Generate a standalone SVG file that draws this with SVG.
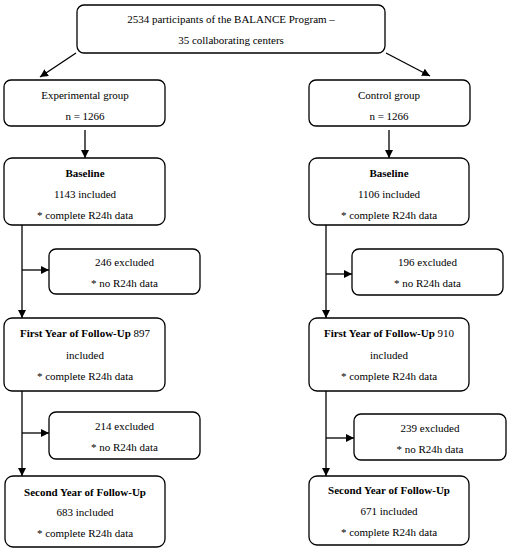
<svg xmlns="http://www.w3.org/2000/svg" width="510" height="550" viewBox="0 0 510 550">
<style>
.box{fill:#fff;stroke:#000;stroke-width:1.3}
.t{font-family:"Liberation Serif","DejaVu Serif",serif;font-size:11px;fill:#000;text-anchor:middle}
.b{font-weight:bold}
.c{stroke:#000;stroke-width:1.3;fill:none}
</style>
<defs>
<marker id="ah" markerUnits="userSpaceOnUse" markerWidth="9" markerHeight="9" refX="8" refY="4" orient="auto">
<path d="M0,0 L8,4 L0,8 z" fill="#000"/>
</marker>
</defs>
<rect width="510" height="550" fill="#fff"/>
<g id="connectors">
<line class="c" x1="76" y1="53" x2="40" y2="77" marker-end="url(#ah)"/>
<line class="c" x1="386" y1="53" x2="430" y2="76" marker-end="url(#ah)"/>
<line class="c" x1="85" y1="130" x2="85" y2="158" marker-end="url(#ah)"/>
<line class="c" x1="389" y1="130" x2="389" y2="158" marker-end="url(#ah)"/>
<line class="c" x1="22" y1="225" x2="22" y2="318" marker-end="url(#ah)"/>
<line class="c" x1="22" y1="270" x2="49" y2="270" marker-end="url(#ah)"/>
<line class="c" x1="22" y1="391" x2="22" y2="476" marker-end="url(#ah)"/>
<line class="c" x1="22" y1="433" x2="49" y2="433" marker-end="url(#ah)"/>
<line class="c" x1="326" y1="225" x2="326" y2="318" marker-end="url(#ah)"/>
<line class="c" x1="326" y1="274" x2="352" y2="274" marker-end="url(#ah)"/>
<line class="c" x1="326" y1="391" x2="326" y2="476" marker-end="url(#ah)"/>
<line class="c" x1="326" y1="438" x2="354" y2="438" marker-end="url(#ah)"/>
</g>
<g id="top">
<rect class="box" x="77" y="5" width="308" height="48" rx="7"/>
<text class="t" x="231" y="23">2534 participants of the BALANCE Program –</text>
<text class="t" x="231" y="44">35 collaborating centers</text>
</g>
<g id="exp">
<rect class="box" x="4" y="80" width="161" height="46" rx="7"/>
<text class="t" x="85" y="99">Experimental group</text>
<text class="t" x="85" y="120">n = 1266</text>
</g>
<g id="ctrl">
<rect class="box" x="309" y="80" width="161" height="46" rx="7"/>
<text class="t" x="389" y="99">Control group</text>
<text class="t" x="389" y="120">n = 1266</text>
</g>
<g id="exp-baseline">
<rect class="box" x="4" y="158" width="161" height="67" rx="8"/>
<text class="t b" x="85" y="177">Baseline</text>
<text class="t" x="85" y="198">1143 included</text>
<text class="t" x="85" y="219">* complete R24h data</text>
</g>
<g id="ctrl-baseline">
<rect class="box" x="309" y="158" width="160" height="67" rx="8"/>
<text class="t b" x="389" y="177">Baseline</text>
<text class="t" x="389" y="198">1106 included</text>
<text class="t" x="389" y="219">* complete R24h data</text>
</g>
<g id="exp-excl1">
<rect class="box" x="49" y="249" width="151" height="45" rx="7"/>
<text class="t" x="124.5" y="266">246 excluded</text>
<text class="t" x="124.5" y="287">* no R24h data</text>
</g>
<g id="ctrl-excl1">
<rect class="box" x="352" y="249" width="151" height="46" rx="7"/>
<text class="t" x="427.5" y="266">196 excluded</text>
<text class="t" x="427.5" y="287">* no R24h data</text>
</g>
<g id="exp-year1">
<rect class="box" x="4" y="318" width="161" height="73" rx="8"/>
<text class="t" x="85" y="337"><tspan class="b">First Year of Follow-Up</tspan> 897</text>
<text class="t" x="85" y="359">included</text>
<text class="t" x="85" y="380">* complete R24h data</text>
</g>
<g id="ctrl-year1">
<rect class="box" x="309" y="318" width="160" height="73" rx="8"/>
<text class="t" x="389" y="337"><tspan class="b">First Year of Follow-Up</tspan> 910</text>
<text class="t" x="389" y="359">included</text>
<text class="t" x="389" y="380">* complete R24h data</text>
</g>
<g id="exp-excl2">
<rect class="box" x="49" y="412" width="151" height="47" rx="7"/>
<text class="t" x="124.5" y="430">214 excluded</text>
<text class="t" x="124.5" y="451">* no R24h data</text>
</g>
<g id="ctrl-excl2">
<rect class="box" x="354" y="414" width="152" height="46" rx="7"/>
<text class="t" x="430" y="432">239 excluded</text>
<text class="t" x="430" y="453">* no R24h data</text>
</g>
<g id="exp-year2">
<rect class="box" x="5" y="476" width="160" height="71" rx="8"/>
<text class="t b" x="85" y="496">Second Year of Follow-Up</text>
<text class="t" x="85" y="516">683 included</text>
<text class="t" x="85" y="537">* complete R24h data</text>
</g>
<g id="ctrl-year2">
<rect class="box" x="309" y="476" width="160" height="69" rx="8"/>
<text class="t b" x="389" y="494">Second Year of Follow-Up</text>
<text class="t" x="389" y="515">671 included</text>
<text class="t" x="389" y="536">* complete R24h data</text>
</g>
</svg>
